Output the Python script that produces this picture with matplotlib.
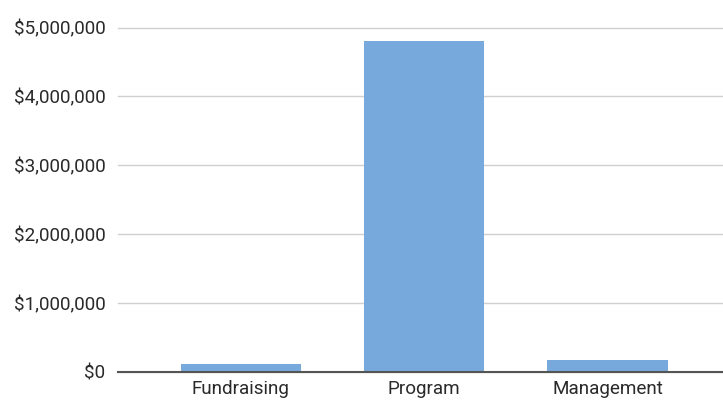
import matplotlib
matplotlib.use("Agg")
import matplotlib.pyplot as plt
from matplotlib.ticker import FuncFormatter

categories = ["Fundraising", "Program", "Management"]
expenses = [110000, 4800000, 175000]
y_ticks = [0, 1000000, 2000000, 3000000, 4000000, 5000000]

plt.rcParams['font.family'] = ['Roboto', 'DejaVu Sans']

W, H = 723, 401
fig = plt.figure(figsize=(W / 100, H / 100), dpi=100)
left, right, top, base = 118, 723, 27.5, 372
ax = fig.add_axes([left / W, (H - base) / H, (right - left) / W, (base - top) / H])

x = range(len(categories))
ax.bar(x, expenses, width=0.655, color="#78a9dc", zorder=3)

ax.set_ylim(0, 5000000)
ax.set_xlim(-0.67, 2.63)
ax.set_yticks(y_ticks)
ax.yaxis.set_major_formatter(FuncFormatter(lambda v, p: "${:,.0f}".format(v)))
ax.set_xticks(list(x))
ax.set_xticklabels(categories)

ax.grid(axis="y", color="#d0d0d0", linewidth=1.0, zorder=0)
for gl in ax.get_ygridlines():
    gl.set_clip_on(False)
for s in ["top", "right", "left"]:
    ax.spines[s].set_visible(False)
ax.spines["bottom"].set_color("#555555")
ax.spines["bottom"].set_linewidth(1.5)
ax.spines["bottom"].set_zorder(4)

ax.tick_params(axis="y", length=0, pad=9, labelsize=13.6, labelcolor="#2a2a2a")
ax.tick_params(axis="x", length=0, pad=6, labelsize=13.6, labelcolor="#2a2a2a")

fig.savefig("out.png", dpi=100)
